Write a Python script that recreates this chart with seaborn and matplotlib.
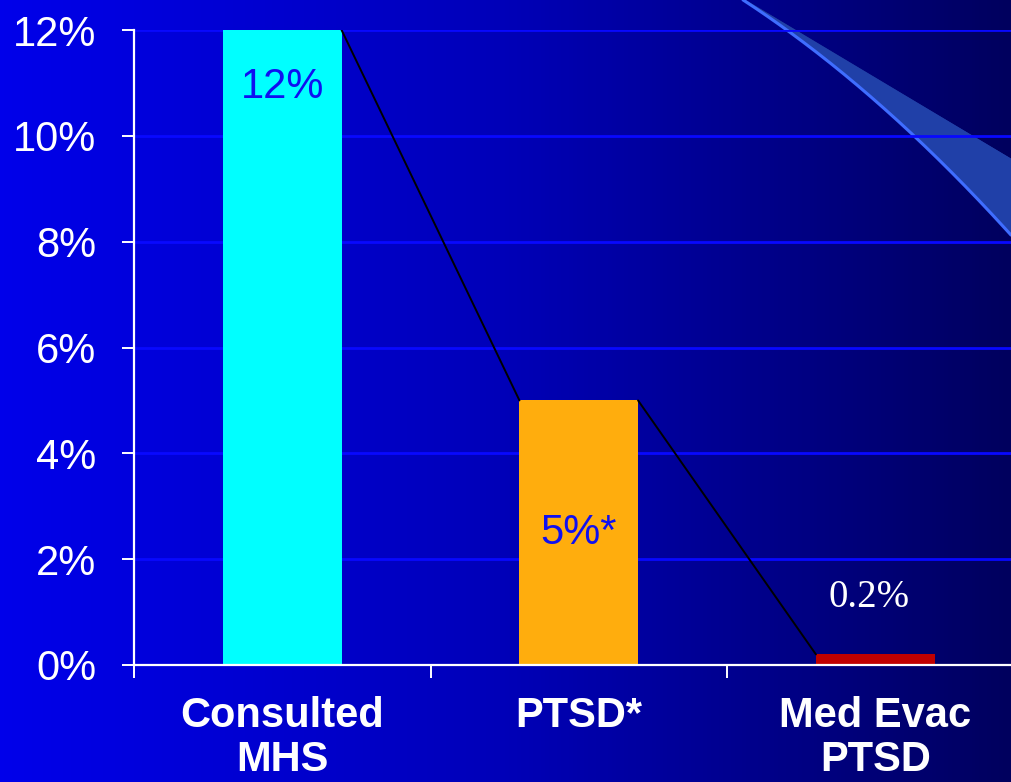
import numpy as np
import matplotlib
matplotlib.use("Agg")
import matplotlib.pyplot as plt
from matplotlib.patches import Polygon
import seaborn as sns

# chart data
categories = ["Consulted\nMHS", "PTSD*", "Med Evac\nPTSD"]
values = [0.12, 0.05, 0.002]
bar_labels = ["12%", "5%*", "0.2%"]
y_ticks = [0.0, 0.02, 0.04, 0.06, 0.08, 0.10, 0.12]
y_tick_labels = ["0%", "2%", "4%", "6%", "8%", "10%", "12%"]

bar_colors = ["#00FFFF", "#FFAD0D", "#C00000"]

sns.set_style("white")
plt.rcParams["font.family"] = ["Liberation Sans", "DejaVu Sans"]

W, H = 1011, 782
fig = plt.figure(figsize=(W / 100, H / 100), dpi=100)

# background: horizontal blue gradient with a swoosh in the top right
bg = fig.add_axes([0, 0, 1, 1], zorder=0)
grad = np.linspace(0, 1, 256)[None, :]
bg_cmap = matplotlib.colors.LinearSegmentedColormap.from_list(
    "bg", ["#0000EA", "#0000B8", "#00005E"])
bg.imshow(grad, cmap=bg_cmap, extent=[0, W, H, 0], aspect="auto")
xs = np.linspace(743, W, 200)
up = np.polyval(np.polyfit([745, 797, 970, 1011], [0, 30, 135, 158], 2), xs)
lo = np.polyval(np.polyfit([743, 787, 913, 1011], [0, 30, 135, 235], 2), xs)
up = np.minimum(up, lo)
verts = np.vstack([np.column_stack([xs, up]), np.column_stack([xs[::-1], lo[::-1]])])
band = Polygon(verts, closed=True, facecolor="#2040A8", lw=0)
bg.add_patch(band)
sw_cmap = matplotlib.colors.LinearSegmentedColormap.from_list(
    "sw", ["#1A2C78", "#2446B0"])
im = bg.imshow(grad, cmap=sw_cmap, extent=[743, W, 240, 0], aspect="auto")
im.set_clip_path(band)
bg.plot(xs, lo, color="#3F6DFF", lw=2.2)
bg.set_xlim(0, W)
bg.set_ylim(H, 0)
bg.axis("off")

# main chart area (runs slightly past the right edge, like the original)
ax = fig.add_axes([134 / W, 117 / H, 889.5 / W, 635 / H], zorder=1)
ax.patch.set_alpha(0)

sns.barplot(x=categories, y=values, hue=categories, palette=bar_colors,
            width=0.4, saturation=1, legend=False, ax=ax, zorder=3,
            edgecolor="none", linewidth=0)

# series connector lines between bar tops
for i in range(len(values) - 1):
    ax.plot([i + 0.2, i + 0.8], [values[i], values[i + 1]],
            color="black", lw=1.4, zorder=4)

# value labels
ax.text(0, values[0] - 0.0108, bar_labels[0], ha="center", va="center",
        fontsize=30, color="#1010F0", zorder=5)
ax.text(1, values[1] / 2, bar_labels[1], ha="center", va="center",
        fontsize=30, color="#1010F0", zorder=5)
ax.text(1.98, values[2] + 0.0107, bar_labels[2], ha="center", va="center",
        fontsize=28, color="white", family=["Liberation Serif", "DejaVu Serif"],
        zorder=5)

ax.set_xlim(-0.5, 2.5)
ax.set_ylim(0, 0.12)
ax.set_yticks(y_ticks)
ax.set_yticklabels(y_tick_labels)
ax.yaxis.grid(True, color="#0808FF", lw=2, zorder=1)
ax.xaxis.grid(False)
ax.set_axisbelow(True)

ax.set_xticks([-0.5, 0.5, 1.5, 2.5])
ax.set_xticklabels([])
ax.set_xticks([0, 1, 2], minor=True)
ax.set_xticklabels(categories, minor=True, fontsize=30, fontweight="bold",
                   color="white", linespacing=1.15)
ax.tick_params(axis="x", which="minor", bottom=True, length=0, pad=22)
ax.tick_params(axis="x", which="major", bottom=True, length=9, width=1.4,
               color="white", direction="out")
ax.tick_params(axis="y", left=True, length=9, width=1.4, color="white",
               labelsize=30, labelcolor="white", pad=18, direction="out")
ax.set_xlabel("")
ax.set_ylabel("")

for side in ["top", "right"]:
    ax.spines[side].set_visible(False)
for side in ["left", "bottom"]:
    ax.spines[side].set_color("white")
    ax.spines[side].set_linewidth(1.6)
    ax.spines[side].set_zorder(6)

fig.savefig("out.png", dpi=100)
